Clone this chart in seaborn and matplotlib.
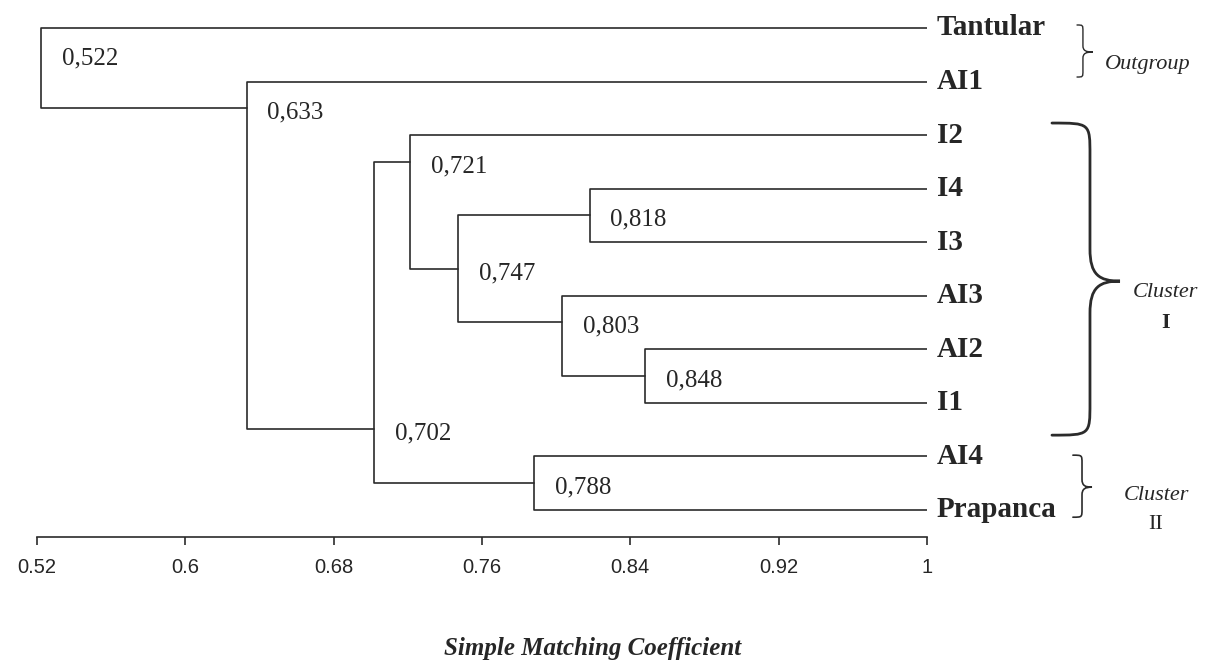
"""
    Dendrogramme UPGMA - Simple Matching Coefficient
    (Tantular, AI1..AI4, I1..I4, Prapanca)
"""

import matplotlib
matplotlib.use("Agg")
import matplotlib.pyplot as plt
from matplotlib.path import Path
from matplotlib.patches import PathPatch
import seaborn as sns
import pandas as pd

# Feuilles, de haut en bas
leaves = ['Tantular', 'AI1', 'I2', 'I4', 'I3', 'AI3', 'AI2', 'I1', 'AI4', 'Prapanca']

# Fusions : enfant du haut, enfant du bas, coefficient
node_names = ['n848', 'n818', 'n803', 'n747', 'n721', 'n788', 'n702', 'n633', 'n522']
left_child = ['AI2', 'I4', 'AI3', 'n818', 'I2', 'AI4', 'n721', 'AI1', 'Tantular']
right_child = ['I1', 'I3', 'n848', 'n803', 'n747', 'Prapanca', 'n788', 'n702', 'n633']
heights = [0.848, 0.818, 0.803, 0.747, 0.721, 0.788, 0.702, 0.633, 0.522]

xticks = [0.52, 0.6, 0.68, 0.76, 0.84, 0.92, 1]

LINE = '#2b2b2b'

sns.set_style('white')
plt.rcParams['font.family'] = ['Liberation Serif', 'DejaVu Serif']


def build_segments():
    """Coordonnees des coudes du dendrogramme"""
    pos_y = {name: i for i, name in enumerate(leaves)}
    pos_x = {name: 1.0 for name in leaves}
    last_row = {name: i for i, name in enumerate(leaves)}
    rows = []
    joins = []
    for name, a, b, h in zip(node_names, left_child, right_child, heights):
        pts = [(pos_x[a], pos_y[a]), (h, pos_y[a]), (h, pos_y[b]), (pos_x[b], pos_y[b])]
        for k, (x, y) in enumerate(pts):
            rows.append({'node': name, 'order': k, 'x': x, 'y': y})
        # point de jonction : entre la derniere feuille du haut et le groupe du bas
        join = last_row[a] + 0.5
        pos_y[name] = join
        pos_x[name] = h
        last_row[name] = last_row[b]
        joins.append(join)
    return pd.DataFrame(rows), joins


def draw_brace(ax, x_end, x_spine, x_tip, y_top, y_tip, y_bot, r, lw):
    """Accolade verticale ouverte vers la gauche"""
    dx = x_tip - x_spine
    verts = [
        (x_end, y_top),
        (x_spine, y_top), (x_spine, y_top), (x_spine, y_top + r),
        (x_spine, y_tip - r),
        (x_spine, y_tip - 0.2 * r), (x_spine + 0.3 * dx, y_tip), (x_tip, y_tip),
        (x_spine + 0.3 * dx, y_tip), (x_spine, y_tip + 0.2 * r), (x_spine, y_tip + r),
        (x_spine, y_bot - r),
        (x_spine, y_bot), (x_spine, y_bot), (x_end, y_bot),
    ]
    codes = [Path.MOVETO,
             Path.CURVE4, Path.CURVE4, Path.CURVE4,
             Path.LINETO,
             Path.CURVE4, Path.CURVE4, Path.CURVE4,
             Path.CURVE4, Path.CURVE4, Path.CURVE4,
             Path.LINETO,
             Path.CURVE4, Path.CURVE4, Path.CURVE4]
    patch = PathPatch(Path(verts, codes), facecolor='none', edgecolor=LINE,
                      lw=lw, clip_on=False, capstyle='round')
    ax.add_patch(patch)


def main():
    df, joins = build_segments()

    fig = plt.figure(figsize=(12.16, 6.63), dpi=100)
    ax = fig.add_axes([37 / 1216, 1 - 537 / 663, 890 / 1216, 537 / 663])

    sns.lineplot(data=df, x='x', y='y', units='node', estimator=None, sort=False,
                 color=LINE, lw=1.2, ax=ax, legend=False)

    ax.set_xlim(0.52, 1)
    ax.set_ylim(9.51, -0.523)

    for s in ['top', 'left', 'right']:
        ax.spines[s].set_visible(False)
    ax.spines['bottom'].set_color(LINE)
    ax.spines['bottom'].set_linewidth(1.2)

    ax.set_xticks(xticks)
    ax.set_xticklabels([f"{v:g}" for v in xticks], family='Liberation Sans', fontsize=14.5)
    ax.tick_params(axis='x', direction='out', length=6, width=1.2, color=LINE, pad=9, bottom=True)
    ax.set_yticks([])
    ax.set_xlabel('')
    ax.set_ylabel('')

    # noms des feuilles
    for i, name in enumerate(leaves):
        ax.annotate(name, (1, i), xytext=(7, 0), textcoords='offset points',
                    va='center', ha='left', fontsize=21, fontweight='bold',
                    annotation_clip=False)

    # coefficients aux noeuds
    for h, j in zip(heights, joins):
        label = f"{h:.3f}".replace('.', ',')
        ax.annotate(label, (h, j), xytext=(15, -3), textcoords='offset points',
                    va='center', ha='left', fontsize=18, annotation_clip=False)

    # accolades des groupes
    draw_brace(ax, 1.0809, 1.0841, 1.0895, -0.056, 0.449, 0.916, 0.12, 1.0)
    draw_brace(ax, 1.0674, 1.0879, 1.1041, 1.776, 4.729, 7.607, 0.6, 2.0)
    draw_brace(ax, 1.0787, 1.0836, 1.0890, 7.981, 8.579, 9.140, 0.15, 1.2)

    ax.text(1.096, 0.68, 'Outgroup', style='italic', fontsize=16, va='center',
            ha='left', clip_on=False)
    ax.text(1.1284, 4.94, 'Cluster', style='italic', fontsize=16, va='center',
            ha='center', clip_on=False)
    ax.text(1.1284, 5.52, 'I', fontweight='bold', fontsize=16, va='center',
            ha='center', clip_on=False)
    ax.text(1.1235, 8.74, 'Cluster', style='italic', fontsize=16, va='center',
            ha='center', clip_on=False)
    ax.text(1.1235, 9.28, 'II', fontsize=16, va='center', ha='center', clip_on=False)

    fig.text(593 / 1216, 1 - 648 / 663, 'Simple Matching Coefficient',
             style='italic', fontweight='bold', fontsize=18, ha='center', va='center')

    fig.savefig('out.png', dpi=100, facecolor='white')
    plt.close(fig)


if __name__ == "__main__":
    main()
